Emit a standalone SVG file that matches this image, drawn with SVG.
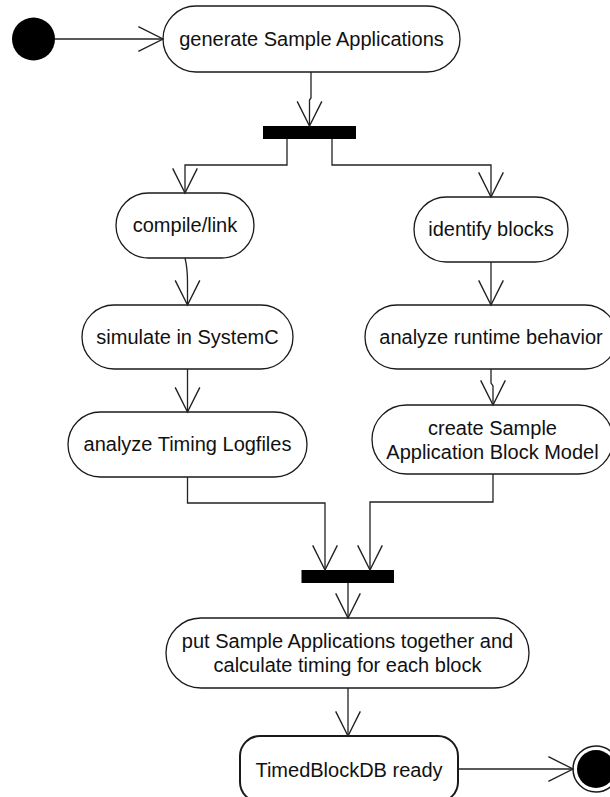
<svg xmlns="http://www.w3.org/2000/svg" width="610" height="797" viewBox="0 0 610 797">
  <style>
    .act { fill: #ffffff; stroke: #1a1a1a; stroke-width: 1.3; }
    .act-end { fill: #ffffff; stroke: #1a1a1a; stroke-width: 2; }
    .bar { fill: #000000; }
    .lbl { font-family: "Liberation Sans", Arial, sans-serif; font-size: 20px; fill: #111111; text-anchor: middle; }
    .flow { fill: none; stroke: #222222; stroke-width: 1.3; marker-end: url(#open); }
  </style>
  <defs>
    <marker id="open" markerUnits="userSpaceOnUse" markerWidth="30" markerHeight="30" refX="0" refY="0" viewBox="-25 -14 27 28" orient="auto" overflow="visible">
      <path d="M-23,-11.5 L0,0 L-23,11.5" fill="none" stroke="#222222" stroke-width="1.3"/>
    </marker>
  </defs>

  <!-- start / end states -->
  <g id="initial">
    <circle cx="33.5" cy="39" r="21.5" fill="#000000"/>
  </g>
  <g id="final">
    <circle cx="596" cy="769" r="23" fill="#ffffff" stroke="#1a1a1a" stroke-width="1.5"/>
    <circle cx="596" cy="769" r="19" fill="#000000"/>
  </g>

  <!-- actions -->
  <g id="generate">
    <rect class="act" x="163" y="6" width="297" height="66" rx="33" ry="33"/>
    <text class="lbl" x="311.5" y="46">generate Sample Applications</text>
  </g>
  <g id="fork">
    <rect class="bar" x="263" y="126" width="93" height="13"/>
  </g>
  <g id="compile">
    <rect class="act" x="116" y="193" width="138" height="65" rx="32.5" ry="32.5"/>
    <text class="lbl" x="185" y="232">compile/link</text>
  </g>
  <g id="identify">
    <rect class="act" x="414" y="197" width="154" height="65" rx="32.5" ry="32.5"/>
    <text class="lbl" x="491" y="236">identify blocks</text>
  </g>
  <g id="simulate">
    <rect class="act" x="82" y="305" width="211" height="64" rx="32" ry="32"/>
    <text class="lbl" x="187.5" y="344">simulate in SystemC</text>
  </g>
  <g id="runtime">
    <rect class="act" x="365" y="305" width="252" height="64" rx="32" ry="32"/>
    <text class="lbl" x="491" y="344">analyze runtime behavior</text>
  </g>
  <g id="timing">
    <rect class="act" x="68" y="412" width="239" height="65" rx="32.5" ry="32.5"/>
    <text class="lbl" x="187.5" y="451">analyze Timing Logfiles</text>
  </g>
  <g id="blockmodel">
    <rect class="act" x="372" y="405" width="241" height="69" rx="34.5" ry="34.5"/>
    <text class="lbl" x="492.5" y="435">create Sample</text>
    <text class="lbl" x="492.5" y="459">Application Block Model</text>
  </g>
  <g id="join">
    <rect class="bar" x="301.5" y="570" width="92.5" height="13"/>
  </g>
  <g id="combine">
    <rect class="act" x="166" y="618" width="363" height="70" rx="35" ry="35"/>
    <text class="lbl" x="347.5" y="648">put Sample Applications together and</text>
    <text class="lbl" x="347.5" y="672">calculate timing for each block</text>
  </g>
  <g id="ready">
    <rect class="act-end" x="240" y="736" width="218" height="66" rx="20" ry="20"/>
    <text class="lbl" x="349" y="777">TimedBlockDB ready</text>
  </g>

  <!-- control flows -->
  <g id="connectors">
    <path class="flow" d="M55,39 L163,39"/>
    <path class="flow" d="M311,72 L311,98 L309.5,100 L309.5,126"/>
    <path class="flow" d="M287,139 L287,165 L185,165 L185,193"/>
    <path class="flow" d="M332,139 L332,165 L491,165 L491,197"/>
    <path class="flow" d="M185,258 Q187.5,268 187.5,282 L187.5,305"/>
    <path class="flow" d="M491,262 L491,305"/>
    <path class="flow" d="M187.5,369 L187.5,412"/>
    <path class="flow" d="M491,369 L491,383 L493,386 L493,405"/>
    <path class="flow" d="M187.5,477 L187.5,503 L325,503 L325,570"/>
    <path class="flow" d="M493,474 L493,502 L370,502 L370,570"/>
    <path class="flow" d="M348,583 L348,618"/>
    <path class="flow" d="M348,688 L348,736"/>
    <path class="flow" d="M458,769 L573,769"/>
  </g>
</svg>
